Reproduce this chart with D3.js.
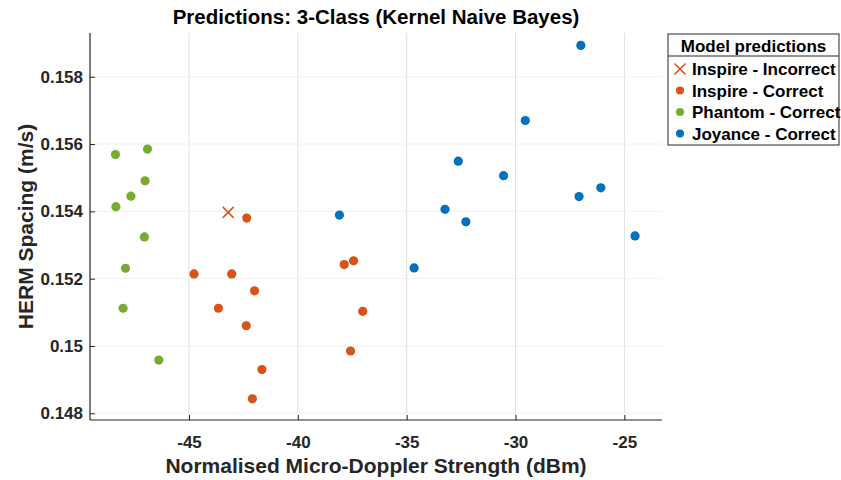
<!DOCTYPE html>
<html>
<head>
<meta charset="utf-8">
<script src="https://cdn.jsdelivr.net/npm/d3@7"></script>
<style>
  body { margin: 0; background: #fff; }
  text { font-family: "Liberation Sans", Arial, sans-serif; font-weight: bold; }
</style>
</head>
<body>
<div id="chart"></div>
<script>
// ---- data ----
const inspireWrongX = [-43.2];
const inspireWrongY = [0.15397];

const inspireX = [-42.35, -44.77, -43.04, -41.99, -43.65, -42.37, -41.65, -42.09, -37.87, -37.44, -37.02, -37.58];
const inspireY = [0.15380, 0.15214, 0.15214, 0.15164, 0.15112, 0.15060, 0.14930, 0.14843, 0.15242, 0.15253, 0.15103, 0.14985];

const phantomX = [-48.38, -46.91, -47.02, -47.67, -48.36, -47.05, -47.92, -48.03, -46.39];
const phantomY = [0.15569, 0.15585, 0.15491, 0.15445, 0.15414, 0.15324, 0.15231, 0.15112, 0.14958];

const joyanceX = [-27.0, -29.55, -32.63, -30.55, -26.08, -27.08, -38.09, -33.24, -32.28, -34.66, -24.51];
const joyanceY = [0.15893, 0.15670, 0.15549, 0.15506, 0.15470, 0.15444, 0.15389, 0.15406, 0.15369, 0.15232, 0.15327];

const xTicks = [-45, -40, -35, -30, -25];
const yTicks = [0.148, 0.15, 0.152, 0.154, 0.156, 0.158];

const legendLabels = ["Inspire - Incorrect", "Inspire - Correct", "Phantom - Correct", "Joyance - Correct"];
const legendColors = ["#D95319", "#D95319", "#77AC30", "#0072BD"];

// ---- layout ----
const W = 841, H = 480;
const plot = { left: 90, right: 662, top: 33, bottom: 420 };

const svg = d3.select("#chart").append("svg")
    .attr("width", W)
    .attr("height", H);

const x = d3.scaleLinear().domain([-49.55, -23.27]).range([plot.left, plot.right]);
const y = d3.scaleLinear().domain([0.1478, 0.1593]).range([plot.bottom, plot.top]);

// grid
svg.append("g")
    .selectAll("line")
    .data(xTicks)
    .join("line")
    .attr("x1", d => x(d)).attr("x2", d => x(d))
    .attr("y1", plot.top).attr("y2", plot.bottom)
    .attr("stroke", "#e0e0e0").attr("stroke-width", 1);

svg.append("g")
    .selectAll("line")
    .data(yTicks)
    .join("line")
    .attr("x1", plot.left).attr("x2", plot.right)
    .attr("y1", d => y(d)).attr("y2", d => y(d))
    .attr("stroke", "#f0f0f0").attr("stroke-width", 1);

// axes (hyphen minus like the original)
const xAxis = svg.append("g")
    .attr("transform", "translate(0," + plot.bottom + ")")
    .call(d3.axisBottom(x).tickValues(xTicks).tickSize(-5).tickSizeOuter(0).tickFormat(d => String(d)));

const yAxis = svg.append("g")
    .attr("transform", "translate(" + plot.left + ",0)")
    .call(d3.axisLeft(y).tickValues(yTicks).tickSize(-5).tickSizeOuter(0).tickFormat(d => String(+d.toFixed(3))));

[xAxis, yAxis].forEach(function(a) {
    a.select(".domain").attr("stroke", "#262626").attr("stroke-width", 1.2);
    a.selectAll(".tick line").attr("stroke", "#262626");
    a.selectAll(".tick text")
        .attr("fill", "#262626")
        .style("font-size", "17px")
        .style("font-family", "'Liberation Sans', Arial, sans-serif")
        .style("font-weight", "bold");
});
// trim domain to the plot box
xAxis.select(".domain").attr("d", "M" + plot.left + ",0H" + plot.right);
yAxis.select(".domain").attr("d", "M0," + plot.bottom + "V" + plot.top);
xAxis.selectAll(".tick text").attr("y", 13).attr("dy", "0.9em");
yAxis.selectAll(".tick text").attr("x", -7);

// titles
svg.append("text")
    .attr("x", (plot.left + plot.right) / 2)
    .attr("y", 24)
    .attr("text-anchor", "middle")
    .style("font-size", "20.5px")
    .attr("fill", "#000")
    .text("Predictions: 3-Class (Kernel Naive Bayes)");

svg.append("text")
    .attr("x", (plot.left + plot.right) / 2)
    .attr("y", 473)
    .attr("text-anchor", "middle")
    .style("font-size", "21px")
    .attr("fill", "#262626")
    .text("Normalised Micro-Doppler Strength (dBm)");

svg.append("text")
    .attr("transform", "translate(33," + ((plot.top + plot.bottom) / 2) + ") rotate(-90)")
    .attr("text-anchor", "middle")
    .style("font-size", "21px")
    .attr("fill", "#262626")
    .text("HERM Spacing (m/s)");

// points
function dots(xs, ys, col) {
    svg.append("g")
        .selectAll("circle")
        .data(xs.map((v, i) => [v, ys[i]]))
        .join("circle")
        .attr("cx", d => x(d[0]))
        .attr("cy", d => y(d[1]))
        .attr("r", 4.6)
        .attr("fill", col);
}
dots(phantomX, phantomY, legendColors[2]);
dots(inspireX, inspireY, legendColors[1]);
dots(joyanceX, joyanceY, legendColors[3]);

function cross(g, cx, cy, s, col) {
    g.append("path")
        .attr("d", "M" + (cx - s) + "," + (cy - s) + "L" + (cx + s) + "," + (cy + s) +
                   "M" + (cx - s) + "," + (cy + s) + "L" + (cx + s) + "," + (cy - s))
        .attr("stroke", col).attr("stroke-width", 1.5).attr("fill", "none");
}
inspireWrongX.forEach(function(v, i) {
    cross(svg, x(v), y(inspireWrongY[i]), 5.5, legendColors[0]);
});

// legend
const lg = svg.append("g").attr("transform", "translate(668,34)");
lg.append("rect")
    .attr("width", 171).attr("height", 111)
    .attr("fill", "#fff").attr("stroke", "#262626").attr("stroke-width", 1);
lg.append("line")
    .attr("x1", 0).attr("x2", 171).attr("y1", 22).attr("y2", 22)
    .attr("stroke", "#262626").attr("stroke-width", 1);
lg.append("text")
    .attr("x", 85.5).attr("y", 18)
    .attr("text-anchor", "middle")
    .style("font-size", "17px")
    .attr("fill", "#000")
    .text("Model predictions");

legendLabels.forEach(function(lab, i) {
    const cy = 35 + i * 21.5;
    if (i === 0) {
        cross(lg, 12, cy, 5.5, legendColors[i]);
    } else {
        lg.append("circle").attr("cx", 12).attr("cy", cy).attr("r", 4).attr("fill", legendColors[i]);
    }
    lg.append("text")
        .attr("x", 24).attr("y", cy + 6)
        .style("font-size", "17px")
        .attr("fill", "#000")
        .text(lab);
});
</script>
</body>
</html>
